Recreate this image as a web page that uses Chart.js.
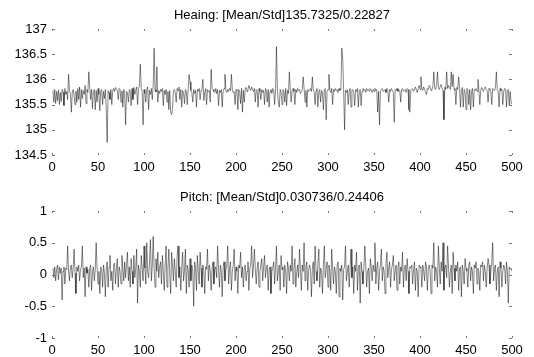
<!DOCTYPE html>
<html>
<head>
<meta charset="utf-8">
<script src="https://cdn.jsdelivr.net/npm/chart.js@4.4.0/dist/chart.umd.min.js"></script>
<style>
  html, body { margin: 0; padding: 0; background: #fff; }
  #wrap { position: relative; width: 534px; height: 357px; }
  canvas { position: absolute; left: 0; }
</style>
</head>
<body>
<div id="wrap">
  <canvas id="heading-viz" width="534" height="175" style="top:0"></canvas>
  <canvas id="pitch-viz" width="534" height="182" style="top:175px"></canvas>
</div>
<script>
// titles and tick values
var heading_title = 'Heaing: [Mean/Std]135.7325/0.22827';
var pitch_title = 'Pitch: [Mean/Std]0.030736/0.24406';
var x_ticks = [0, 50, 100, 150, 200, 250, 300, 350, 400, 450, 500];
var heading_ticks = [134.5, 135, 135.5, 136, 136.5, 137];
var pitch_ticks = [-1, -0.5, 0, 0.5, 1];

// heading samples 1..500
var heading_values = [
	135.78, 135.55, 135.80, 135.52, 135.76, 135.58, 135.79, 135.50, 135.74, 135.56,
	135.80, 135.75, 135.48, 135.82, 135.70, 135.76, 135.60, 136.10, 135.78, 135.72,
	135.35, 135.74, 135.80, 135.68, 135.50, 135.77, 135.55, 135.82, 135.60, 135.85,
	135.45, 135.80, 135.62, 135.78, 135.70, 135.88, 135.52, 135.80, 135.74, 136.15,
	135.85, 135.60, 135.80, 135.42, 135.76, 135.80, 135.40, 135.78, 135.55, 135.82,
	135.70, 135.38, 135.78, 135.80, 135.50, 135.76, 135.62, 135.80, 135.40, 134.75,
	135.78, 135.74, 135.60, 135.80, 135.50, 135.78, 135.82, 135.76, 135.84, 135.80,
	135.78, 135.60, 135.82, 135.80, 135.55, 135.77, 135.45, 135.80, 135.72, 135.10,
	135.76, 135.74, 135.55, 135.80, 135.78, 135.48, 135.82, 135.60, 135.84, 135.70,
	135.78, 135.85, 135.50, 135.80, 135.88, 136.30, 135.82, 135.76, 135.10, 135.80,
	135.72, 135.55, 135.80, 135.85, 135.40, 135.78, 135.70, 135.82, 135.60, 135.88,
	136.62, 135.80, 135.75, 136.25, 135.55, 135.78, 135.72, 135.80, 135.76, 135.82,
	135.48, 135.78, 135.70, 135.80, 135.55, 135.76, 135.40, 135.78, 135.35, 135.30,
	135.42, 135.78, 135.80, 135.74, 135.55, 135.82, 135.78, 135.85, 135.60, 135.80,
	135.45, 135.78, 135.74, 135.52, 135.80, 135.76, 135.50, 135.82, 136.10, 135.95,
	135.78, 135.74, 135.55, 135.80, 135.72, 135.78, 135.45, 135.80, 135.76, 135.82,
	135.60, 135.78, 135.80, 136.00, 135.58, 135.74, 135.82, 135.50, 135.80, 135.76,
	135.78, 135.55, 136.20, 135.82, 135.80, 135.76, 135.74, 135.82, 135.72, 135.80,
	135.48, 135.78, 135.74, 135.80, 135.45, 135.76, 135.82, 136.10, 135.78, 135.74,
	135.80, 135.76, 135.82, 135.78, 136.10, 135.80, 135.74, 135.76, 135.50, 135.80,
	135.78, 135.40, 135.80, 135.74, 135.52, 135.82, 135.35, 135.78, 135.55, 135.80,
	135.84, 135.76, 135.80, 135.88, 135.82, 135.78, 135.85, 135.80, 135.76, 135.82,
	135.55, 135.80, 135.78, 135.45, 135.82, 135.76, 135.60, 135.80, 135.74, 135.78,
	135.50, 135.82, 135.78, 135.55, 135.80, 135.45, 135.76, 135.80, 135.72, 135.82,
	135.78, 135.50, 135.80, 136.65, 135.78, 135.55, 135.45, 135.80, 135.74, 135.50,
	135.80, 135.76, 135.55, 135.82, 135.48, 135.78, 135.72, 136.15, 135.80, 135.55,
	135.78, 135.82, 135.76, 135.50, 135.80, 135.74, 135.82, 135.78, 135.80, 135.72,
	135.76, 135.80, 136.05, 135.82, 135.55, 135.78, 135.45, 135.80, 135.76, 135.78,
	135.82, 135.76, 136.05, 135.80, 135.74, 135.50, 135.78, 135.82, 135.45, 135.76,
	135.80, 135.55, 135.78, 135.74, 135.40, 135.80, 135.82, 135.20, 135.76, 135.80,
	136.10, 135.78, 135.74, 135.82, 135.50, 135.80, 135.76, 135.82, 135.78, 135.80,
	135.74, 135.82, 135.78, 135.80, 136.62, 136.40, 135.80, 135.00, 135.78, 135.74,
	135.80, 135.50, 135.76, 135.82, 135.45, 135.78, 135.80, 135.74, 135.48, 135.80,
	135.76, 135.82, 135.45, 135.78, 135.80, 135.48, 135.76, 135.82, 135.78, 135.80,
	135.74, 135.82, 135.78, 135.80, 135.76, 135.82, 135.78, 135.74, 135.80, 135.76,
	135.82, 135.78, 135.80, 135.35, 135.76, 135.10, 135.78, 135.80, 135.82, 135.76,
	135.78, 135.80, 135.74, 135.82, 135.78, 135.55, 135.80, 135.76, 135.82, 135.78,
	135.74, 135.15, 135.80, 135.78, 135.82, 135.76, 135.80, 135.78, 135.55, 135.80,
	135.82, 135.76, 135.78, 135.80, 135.74, 135.82, 135.80, 135.40, 135.35, 135.78,
	135.80, 135.82, 135.76, 135.78, 135.85, 135.80, 135.74, 135.82, 135.88, 135.80,
	136.05, 135.82, 135.78, 135.85, 135.80, 135.76, 135.70, 135.82, 135.80, 135.88,
	135.84, 135.78, 135.80, 135.86, 136.15, 135.82, 135.80, 135.88, 136.15, 135.84,
	135.80, 135.86, 135.90, 135.82, 135.78, 135.20, 135.85, 135.80, 136.15, 135.82,
	135.88, 135.84, 135.80, 136.15, 135.86, 136.10, 135.82, 135.78, 135.50, 135.84,
	135.80, 136.05, 135.82, 135.45, 135.78, 135.84, 135.45, 135.80, 135.76, 135.40,
	135.82, 135.78, 135.50, 135.80, 135.40, 135.76, 135.82, 135.45, 135.80, 135.78,
	135.82, 135.76, 136.00, 135.80, 135.50, 135.78, 135.84, 135.80, 135.76, 135.82,
	135.85, 135.80, 135.78, 135.55, 135.82, 135.80, 135.76, 135.50, 135.82, 135.80,
	135.78, 135.84, 136.15, 135.80, 135.76, 135.45, 135.82, 135.78, 135.80, 135.50,
	135.76, 135.82, 135.80, 135.45, 135.78, 135.80, 135.48, 135.76, 135.55, 135.50
];

// pitch samples 1..500
var pitch_values = [
	0.10, -0.05, 0.12, -0.10, 0.08, 0.15, -0.08, 0.12, 0.02, 0.10,
	-0.40, 0.05, 0.12, -0.15, 0.10, 0.08, 0.45, 0.05, -0.10, 0.12,
	0.15, -0.05, 0.10, 0.40, 0.02, -0.30, 0.12, 0.05, 0.15, -0.10,
	0.08, 0.12, 0.45, -0.05, 0.10, -0.35, 0.12, 0.02, 0.08, -0.20,
	0.10, 0.15, -0.25, 0.05, 0.12, -0.10, 0.08, 0.50, 0.10, -0.15,
	0.05, -0.30, 0.12, 0.08, -0.20, 0.15, 0.02, -0.35, 0.10, 0.20,
	-0.20, 0.12, 0.30, -0.10, 0.05, -0.25, 0.15, 0.18, -0.15, 0.10,
	0.25, -0.20, 0.12, 0.05, -0.15, 0.30, 0.10, -0.10, 0.20, -0.05,
	0.15, 0.35, -0.10, 0.12, -0.20, 0.25, 0.05, -0.15, 0.30, -0.05,
	0.10, 0.40, -0.45, 0.15, 0.05, -0.20, 0.30, 0.10, -0.10, 0.45,
	0.10, -0.15, 0.50, 0.05, -0.05, 0.20, 0.55, -0.10, 0.15, 0.60,
	0.10, -0.20, 0.25, 0.05, 0.35, -0.05, 0.12, 0.20, -0.15, 0.30,
	0.05, -0.25, 0.15, 0.45, -0.20, 0.10, 0.40, 0.02, -0.30, 0.35,
	0.15, -0.10, 0.25, 0.05, -0.20, 0.30, 0.45, -0.05, 0.12, -0.25,
	0.10, 0.35, -0.10, 0.05, 0.40, -0.30, 0.15, 0.08, -0.20, 0.25,
	-0.10, 0.15, 0.05, -0.50, 0.20, 0.10, -0.25, 0.30, 0.05, -0.15,
	0.35, 0.10, -0.20, 0.15, 0.05, -0.30, 0.12, 0.08, 0.40, -0.10,
	0.15, 0.05, -0.25, 0.10, 0.20, -0.15, 0.08, 0.12, -0.05, 0.45,
	0.10, -0.20, 0.15, 0.05, -0.35, 0.12, 0.20, -0.10, 0.08, 0.15,
	0.45, -0.15, 0.10, 0.20, -0.25, 0.05, 0.15, 0.40, -0.10, 0.12,
	0.05, -0.30, 0.15, 0.10, 0.35, -0.05, 0.12, -0.20, 0.08, 0.15,
	-0.10, 0.05, 0.20, -0.25, 0.10, 0.15, 0.45, -0.05, 0.12, 0.40,
	0.08, -0.15, 0.10, 0.20, -0.20, 0.05, 0.15, 0.25, -0.10, 0.12,
	0.30, -0.05, 0.10, 0.15, -0.25, 0.08, 0.12, -0.30, 0.05, 0.10,
	0.20, -0.15, 0.10, 0.45, -0.10, 0.05, 0.15, -0.25, 0.30, 0.08,
	0.12, -0.20, 0.15, 0.05, -0.30, 0.20, 0.10, -0.10, 0.15, 0.05,
	0.45, -0.15, 0.10, 0.25, -0.20, 0.05, 0.15, -0.05, 0.40, 0.10,
	-0.25, 0.15, 0.05, 0.50, -0.10, 0.12, 0.20, -0.25, 0.08, 0.15,
	0.05, -0.35, 0.10, 0.20, -0.15, 0.45, 0.05, -0.10, 0.15, 0.40,
	-0.20, 0.10, 0.05, -0.30, 0.15, 0.45, -0.05, 0.10, 0.20, -0.20,
	0.15, 0.05, -0.25, 0.40, 0.10, -0.15, 0.12, 0.05, -0.30, 0.15,
	0.20, -0.35, 0.10, 0.05, 0.15, -0.40, 0.08, 0.12, 0.45, -0.10,
	0.05, 0.15, -0.20, 0.10, 0.40, -0.05, 0.12, -0.30, 0.15, 0.05,
	0.35, -0.25, 0.10, 0.15, -0.45, 0.20, 0.05, -0.15, 0.10, 0.45,
	0.15, -0.20, 0.05, 0.10, -0.30, 0.25, 0.12, -0.10, 0.15, 0.05,
	0.50, -0.15, 0.10, 0.20, -0.25, 0.05, 0.15, 0.40, -0.10, 0.12,
	0.05, -0.30, 0.15, 0.35, -0.05, 0.10, 0.20, -0.20, 0.08, 0.15,
	0.30, -0.10, 0.05, 0.15, -0.25, 0.10, 0.20, -0.15, 0.12, 0.05,
	0.35, -0.20, 0.10, 0.15, -0.10, 0.25, 0.05, -0.30, 0.12, 0.10,
	0.15, -0.15, 0.08, 0.20, -0.25, 0.10, 0.05, -0.35, 0.15, 0.12,
	0.10, -0.20, 0.15, 0.05, -0.10, 0.20, 0.12, -0.25, 0.08, 0.15,
	0.05, -0.30, 0.15, 0.10, 0.50, -0.10, 0.12, 0.05, -0.20, 0.45,
	0.10, -0.15, 0.20, 0.05, 0.50, -0.25, 0.10, 0.15, -0.05, 0.45,
	0.12, -0.20, 0.05, 0.15, -0.30, 0.35, 0.10, -0.10, 0.15, 0.05,
	0.20, -0.25, 0.10, 0.12, -0.35, 0.15, 0.05, -0.15, 0.25, 0.10,
	0.05, -0.20, 0.15, 0.20, -0.10, 0.12, 0.05, -0.30, 0.15, 0.10,
	0.20, -0.15, 0.10, 0.05, -0.25, 0.15, 0.12, 0.20, -0.10, 0.15,
	0.05, -0.20, 0.10, 0.25, 0.15, -0.15, 0.05, 0.20, 0.50, -0.10,
	0.10, 0.15, -0.25, 0.05, 0.12, -0.35, 0.20, 0.10, -0.20, 0.05,
	0.15, 0.10, -0.15, 0.20, 0.05, -0.45, 0.12, 0.08, 0.10, 0.05
];

var FONT = { family: '"Liberation Sans", Arial, sans-serif', size: 13 };

// title above the plot area plus small inward tick marks (matlab style)
var plotDecor = {
	id: 'plotDecor',
	afterDraw: function(chart, args, opts) {
		var ctx = chart.ctx, a = chart.chartArea;
		var xs = chart.scales.x, ys = chart.scales.y;
		ctx.save();
		ctx.fillStyle = '#000';
		ctx.font = FONT.size + 'px ' + FONT.family;
		ctx.textAlign = 'center';
		ctx.textBaseline = 'middle';
		ctx.fillText(opts.text, (a.left + a.right) / 2, a.top - 14);

		ctx.strokeStyle = '#777';
		ctx.lineWidth = 1;
		ctx.beginPath();
		xs.ticks.forEach(function(t) {
			var px = Math.round(xs.getPixelForValue(t.value)) + 0.5;
			ctx.moveTo(px, a.top); ctx.lineTo(px, a.top + 2);
			ctx.moveTo(px, a.bottom); ctx.lineTo(px, a.bottom - 2);
		});
		ys.ticks.forEach(function(t) {
			var py = Math.round(ys.getPixelForValue(t.value)) + 0.5;
			ctx.moveTo(a.left, py); ctx.lineTo(a.left + 3, py);
			ctx.moveTo(a.right, py); ctx.lineTo(a.right - 3, py);
		});
		ctx.stroke();
		ctx.restore();
	}
};

function generate_signal_viz(canvas_id, values, title, y_ticks, pad_top, x_height) {
	var points = values.map(function(v, i) { return { x: i + 1, y: v }; });
	var ctx = document.getElementById(canvas_id);
	var cfg = {
		type: 'line',
		data: {
			datasets: [{
				data: points,
				borderColor: 'rgba(0,0,0,0.6)',
				borderWidth: 0.8,
				pointRadius: 0,
				tension: 0,
				fill: false
			}]
		},
		options: {
			responsive: false,
			animation: false,
			devicePixelRatio: 1,
			layout: { padding: { left: 0, right: 22, top: pad_top, bottom: 0 } },
			plugins: {
				legend: { display: false },
				tooltip: { enabled: false },
				plotDecor: { text: title }
			},
			scales: {
				x: {
					type: 'linear',
					min: x_ticks[0],
					max: x_ticks[x_ticks.length - 1],
					afterBuildTicks: function(s) { s.ticks = x_ticks.map(function(v) { return { value: v }; }); },
					afterFit: function(s) { s.height = x_height; },
					grid: { display: false, drawTicks: false },
					border: { display: false },
					ticks: { color: '#000', font: FONT, padding: 5, maxRotation: 0, autoSkip: false }
				},
				y: {
					min: y_ticks[0],
					max: y_ticks[y_ticks.length - 1],
					afterBuildTicks: function(s) { s.ticks = y_ticks.map(function(v) { return { value: v }; }); },
					afterFit: function(s) { s.width = 52; },
					grid: { display: false, drawTicks: false },
					border: { display: false },
					ticks: { color: '#000', font: FONT, padding: 5, autoSkip: false,
					         callback: function(v) { return String(v); } }
				}
			}
		},
		plugins: [plotDecor]
	};
	new Chart(ctx, cfg);
} // generate_signal_viz

generate_signal_viz('heading-viz', heading_values, heading_title, heading_ticks, 29, 20);
generate_signal_viz('pitch-viz', pitch_values, pitch_title, pitch_ticks, 36, 19);
</script>
</body>
</html>
